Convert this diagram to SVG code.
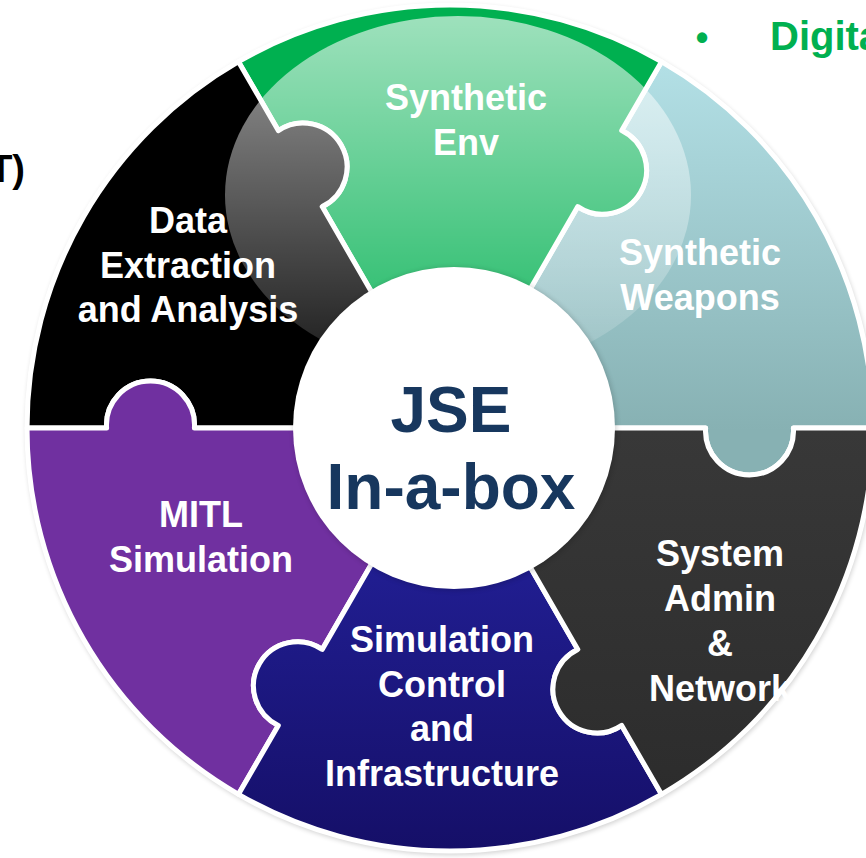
<svg xmlns="http://www.w3.org/2000/svg" width="866" height="858" viewBox="0 0 866 858">
  <style>
    .piece { stroke: #ffffff; stroke-width: 5; stroke-linejoin: round; }
    .lbl { font-family: "Liberation Sans", Arial, sans-serif; font-weight: bold; font-size: 36px; fill: #ffffff; text-anchor: middle; }
    .core { font-family: "Liberation Sans", Arial, sans-serif; font-weight: bold; font-size: 64px; fill: #17375E; text-anchor: middle; }
    .side { font-family: "Liberation Sans", Arial, sans-serif; font-weight: bold; }
  </style>
  <defs>
    <linearGradient id="tealGrad" gradientUnits="userSpaceOnUse" x1="0" y1="60" x2="0" y2="430">
      <stop offset="0" stop-color="#B3E0E6"/>
      <stop offset="1" stop-color="#87B1B3"/>
    </linearGradient>
    <linearGradient id="blueGrad" gradientUnits="userSpaceOnUse" x1="0" y1="560" x2="0" y2="850">
      <stop offset="0" stop-color="#211E92"/>
      <stop offset="1" stop-color="#150F68"/>
    </linearGradient>
    <linearGradient id="darkGrad" gradientUnits="userSpaceOnUse" x1="0" y1="430" x2="0" y2="800">
      <stop offset="0" stop-color="#383838"/>
      <stop offset="1" stop-color="#2C2C2C"/>
    </linearGradient>
    <linearGradient id="hlGrad" gradientUnits="userSpaceOnUse" x1="0" y1="16" x2="0" y2="374">
      <stop offset="0" stop-color="#ffffff" stop-opacity="0.62"/>
      <stop offset="1" stop-color="#ffffff" stop-opacity="0.1"/>
    </linearGradient>
    <clipPath id="ringClip">
      <circle cx="450" cy="428" r="426"/>
    </clipPath>
    <filter id="soft" x="-10%" y="-10%" width="120%" height="120%">
      <feGaussianBlur stdDeviation="2.5"/>
    </filter>
  </defs>

  <rect width="866" height="858" fill="#ffffff"/>

  <!-- side texts -->
  <text class="side" x="702" y="50" font-size="36" fill="#00B050" text-anchor="middle">•</text>
  <text class="side" x="770" y="50" font-size="40" fill="#00B050">Digita</text>
  <text class="side" x="25" y="182" font-size="38" fill="#000000" text-anchor="end">T)</text>

  <!-- soft outer shadow -->
  <circle cx="451" cy="430" r="425" fill="#000000" opacity="0.18" filter="url(#soft)"/>

  <g id="connectors"/>

  <g id="synthetic-weapons">
    <path class="piece" fill="url(#tealGrad)" d="M 873 428 A 423 423 0 0 0 661.5 61.7 L 621.7 130.6 A 44 44 0 1 1 577.8 206.6 L 525 298.1 A 150 150 0 0 1 600 428 L 705.6 428 A 44 44 0 1 0 793.4 428 Z"/>
  </g>
  <g id="synthetic-env">
    <path class="piece" fill="#00B050" d="M 661.5 61.7 A 423 423 0 0 0 238.5 61.7 L 278.3 130.6 A 44 44 0 1 1 322.2 206.6 L 375 298.1 A 150 150 0 0 1 525 298.1 L 577.8 206.6 A 44 44 0 1 0 621.7 130.6 Z"/>
  </g>
  <g id="data-extraction">
    <path class="piece" fill="#000000" d="M 238.5 61.7 A 423 423 0 0 0 27 428 L 106.6 428 A 44 44 0 1 1 194.4 428 L 300 428 A 150 150 0 0 1 375 298.1 L 322.2 206.6 A 44 44 0 1 0 278.3 130.6 Z"/>
  </g>
  <g id="mitl-simulation">
    <path class="piece" fill="#7030A0" d="M 27 428 A 423 423 0 0 0 238.5 794.3 L 278.3 725.4 A 44 44 0 1 1 322.2 649.4 L 375 557.9 A 150 150 0 0 1 300 428 L 194.4 428 A 44 44 0 1 0 106.6 428 Z"/>
  </g>
  <g id="simulation-control">
    <path class="piece" fill="url(#blueGrad)" d="M 238.5 794.3 A 423 423 0 0 0 661.5 794.3 L 621.7 725.4 A 44 44 0 1 1 577.8 649.4 L 525 557.9 A 150 150 0 0 1 375 557.9 L 322.2 649.4 A 44 44 0 1 0 278.3 725.4 Z"/>
  </g>
  <g id="system-admin">
    <path class="piece" fill="url(#darkGrad)" d="M 661.5 794.3 A 423 423 0 0 0 873 428 L 793.4 428 A 44 44 0 1 1 705.6 428 L 600 428 A 150 150 0 0 1 525 557.9 L 577.8 649.4 A 44 44 0 1 0 621.7 725.4 Z"/>
  </g>

  <!-- glossy highlight -->
  <ellipse cx="458" cy="195" rx="233" ry="179" fill="url(#hlGrad)" clip-path="url(#ringClip)"/>

  <!-- labels -->
  <g id="labels">
    <text class="lbl" x="466"><tspan x="466" y="110">Synthetic</tspan><tspan x="466" y="155">Env</tspan></text>
    <text class="lbl" x="700"><tspan x="700" y="265">Synthetic</tspan><tspan x="700" y="310">Weapons</tspan></text>
    <text class="lbl" x="188"><tspan x="188" y="233">Data</tspan><tspan x="188" y="278">Extraction</tspan><tspan x="188" y="322">and Analysis</tspan></text>
    <text class="lbl" x="201"><tspan x="201" y="527">MITL</tspan><tspan x="201" y="572">Simulation</tspan></text>
    <text class="lbl" x="442"><tspan x="442" y="652">Simulation</tspan><tspan x="442" y="697">Control</tspan><tspan x="442" y="741">and</tspan><tspan x="442" y="786">Infrastructure</tspan></text>
    <text class="lbl" x="720"><tspan x="720" y="566">System</tspan><tspan x="720" y="611">Admin</tspan><tspan x="720" y="656">&amp;</tspan><tspan x="720" y="701">Network</tspan></text>
  </g>

  <g id="jse-in-a-box">
    <circle cx="455" cy="429" r="162" fill="#000000" opacity="0.15" filter="url(#soft)"/>
    <circle cx="454" cy="428" r="161" fill="#ffffff"/>
    <text class="core"><tspan x="451" y="432">JSE</tspan><tspan x="451" y="509">In-a-box</tspan></text>
  </g>
</svg>
